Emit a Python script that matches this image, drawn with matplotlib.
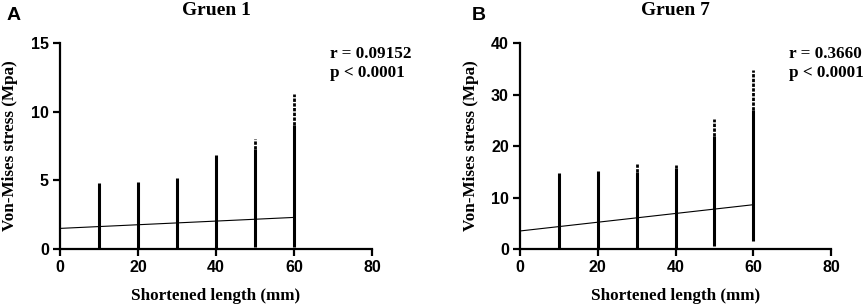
import matplotlib
matplotlib.use("Agg")
import matplotlib.pyplot as plt

# shortened length groups (mm)
lengths = [10, 20, 30, 40, 50, 60]

# Gruen 1: dense range (min, max) and sparse tail top of each strip
g1_min = [0.0, 0.0, 0.0, 0.0, 0.15, 0.15]
g1_dense_max = [4.8, 4.85, 5.15, 6.85, 7.3, 9.0]
g1_max = [4.8, 4.85, 5.15, 6.85, 8.0, 11.3]
g1_fit = [1.5, 2.3]          # regression at x = 0 and x = 60
g1_r = "r = 0.09152"

# Gruen 7
g7_min = [0.0, 0.0, 0.2, 0.0, 0.6, 1.6]
g7_dense_max = [14.8, 15.2, 15.0, 15.8, 22.0, 27.0]
g7_max = [14.8, 15.2, 16.5, 16.3, 25.3, 34.7]
g7_fit = [3.5, 8.6]
g7_r = "r = 0.3660"

fit_x = [0, 60]
p_text = "p < 0.0001"

SERIF = "Liberation Serif"
SANS = "Liberation Sans"

fig = plt.figure(figsize=(8.65, 3.06), dpi=100)
axA = fig.add_axes([0.0694, 0.1863, 0.3607, 0.673])
axB = fig.add_axes([0.6012, 0.1863, 0.3595, 0.673])

panels = [
    (axA, "A", "Gruen 1", g1_min, g1_dense_max, g1_max, g1_fit, g1_r, 15, [0, 5, 10, 15]),
    (axB, "B", "Gruen 7", g7_min, g7_dense_max, g7_max, g7_fit, g7_r, 40, [0, 10, 20, 30, 40]),
]

for ax, letter, title, ymin, ydense, ymax, fit, rtxt, ytop, yticks in panels:
    ax.vlines(lengths, ymin, ydense, colors="black", lw=2.2, zorder=3)
    ax.vlines(lengths, ydense, ymax, colors="black", lw=2.0, linestyles=(0, (1.2, 0.5)), zorder=3)
    ax.plot(fit_x, fit, color="black", lw=0.8, zorder=4)

    ax.set_xlim(0, 80)
    ax.set_ylim(0, ytop)
    ax.set_xticks([0, 20, 40, 60, 80])
    ax.set_yticks(yticks)
    for s in ["top", "right"]:
        ax.spines[s].set_visible(False)
    for s in ["left", "bottom"]:
        ax.spines[s].set_linewidth(1.6)
    ax.tick_params(direction="out", length=5, width=1.6, pad=3)
    for lab in ax.get_xticklabels() + ax.get_yticklabels():
        lab.set_fontfamily(SANS)
        lab.set_fontweight("bold")
        lab.set_fontsize(11.5)

    ax.set_xlabel("Shortened length (mm)", fontfamily=SERIF, fontweight="bold", fontsize=12.3, labelpad=9)
    ax.set_ylabel("Von-Mises stress (Mpa)", fontfamily=SERIF, fontweight="bold", fontsize=12.3, labelpad=9)
    ax.set_title(title, fontfamily=SERIF, fontweight="bold", fontsize=14, pad=20)

    ax.text(0.865, 0.985, rtxt + "\n" + p_text, transform=ax.transAxes, ha="left", va="top",
            fontfamily=SERIF, fontweight="bold", fontsize=12.3, linespacing=1.25, clip_on=False)

fig.text(0.007, 0.977, "A", fontfamily=SANS, fontweight="bold", fontsize=14, ha="left", va="top")
fig.text(0.545, 0.977, "B", fontfamily=SANS, fontweight="bold", fontsize=14, ha="left", va="top")

fig.savefig("out.png", dpi=100)
